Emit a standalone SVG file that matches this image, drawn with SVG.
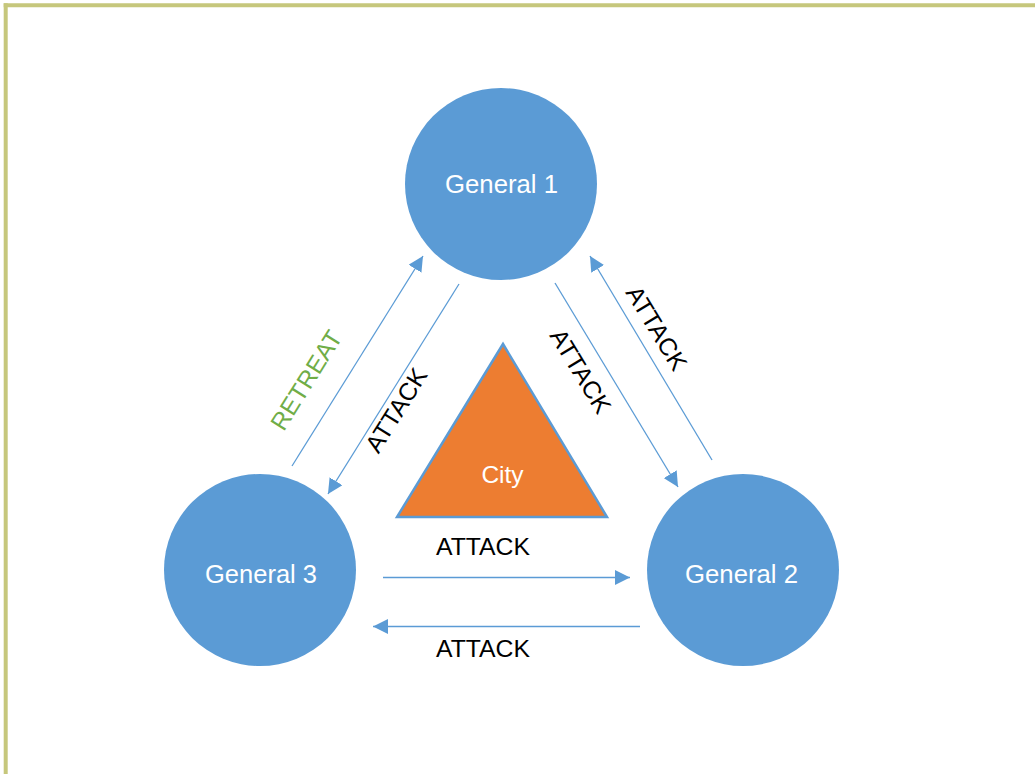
<svg xmlns="http://www.w3.org/2000/svg" width="1035" height="774" viewBox="0 0 1035 774">
  <style>
    .node { fill: #5B9BD5; }
    .nlabel { font-family: "Liberation Sans", Arial, sans-serif; font-size: 26px; fill: #FFFFFF; text-anchor: middle; }
    .conn { stroke: #5B9BD5; stroke-width: 1.3; fill: none; marker-end: url(#arrow); }
    .clabel { font-family: "Liberation Sans", Arial, sans-serif; font-size: 24.5px; fill: #000000; text-anchor: middle; }
    .retreat { fill: #70AD47; }
    .frame { stroke: #C6C77C; stroke-width: 4; fill: none; }
  </style>
  <defs>
    <marker id="arrow" markerUnits="userSpaceOnUse" markerWidth="15" markerHeight="15" refX="15" refY="7.5" orient="auto">
      <path d="M0,0 L15,7.5 L0,15 z" fill="#5B9BD5"/>
    </marker>
  </defs>
  <rect x="0" y="0" width="1035" height="774" fill="#FFFFFF"/>
  <g id="frame">
    <line class="frame" x1="3.7" y1="5.3" x2="1035" y2="5.3"/>
    <line class="frame" x1="5.7" y1="3.3" x2="5.7" y2="774"/>
  </g>

  <g id="general1">
    <circle class="node" cx="501" cy="184" r="96"/>
    <text class="nlabel" x="501.5" y="193" textLength="113" lengthAdjust="spacingAndGlyphs">General 1</text>
  </g>
  <g id="general3">
    <circle class="node" cx="260" cy="570" r="96"/>
    <text class="nlabel" x="261" y="583" textLength="112" lengthAdjust="spacingAndGlyphs">General 3</text>
  </g>
  <g id="general2">
    <circle class="node" cx="743" cy="570" r="96"/>
    <text class="nlabel" x="741.5" y="583" textLength="113" lengthAdjust="spacingAndGlyphs">General 2</text>
  </g>
  <g id="city">
    <polygon points="503,344 607,517 397,517" fill="#ED7D31" stroke="#5B9BD5" stroke-width="2.5" stroke-linejoin="miter"/>
    <text class="nlabel" style="font-size:24.5px" x="502.5" y="483">City</text>
  </g>

  <g id="connectors">
    <line class="conn" x1="292" y1="466" x2="423" y2="256"/>
    <line class="conn" x1="459" y1="284" x2="328" y2="494"/>
    <line class="conn" x1="555" y1="283" x2="678" y2="487"/>
    <line class="conn" x1="712" y1="460" x2="590" y2="256"/>
    <line class="conn" x1="383" y1="577.5" x2="630" y2="577.5"/>
    <line class="conn" x1="640" y1="626.5" x2="373" y2="626.5"/>

    <text class="clabel retreat" x="306" y="388.8" transform="rotate(-58 306 380)" textLength="112" lengthAdjust="spacingAndGlyphs">RETREAT</text>
    <text class="clabel" x="396" y="418.8" transform="rotate(-58 396 410)" textLength="94" lengthAdjust="spacingAndGlyphs">ATTACK</text>
    <text class="clabel" x="581" y="379.8" transform="rotate(58.7 581 371)" textLength="94" lengthAdjust="spacingAndGlyphs">ATTACK</text>
    <text class="clabel" x="657" y="336.8" transform="rotate(58.7 657 328)" textLength="94" lengthAdjust="spacingAndGlyphs">ATTACK</text>
    <text class="clabel" x="483" y="554.5" textLength="94" lengthAdjust="spacingAndGlyphs">ATTACK</text>
    <text class="clabel" x="483" y="656.5" textLength="94" lengthAdjust="spacingAndGlyphs">ATTACK</text>
  </g>
</svg>
